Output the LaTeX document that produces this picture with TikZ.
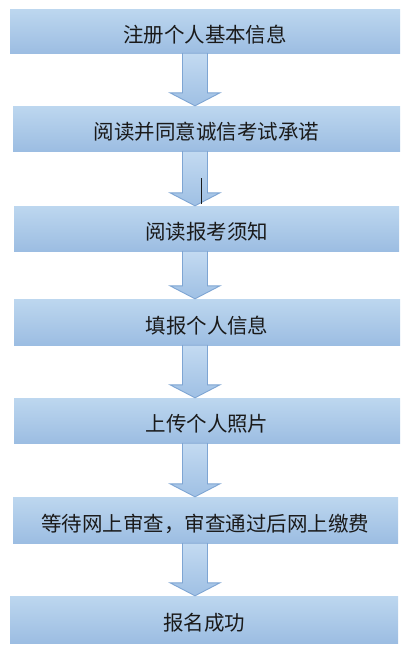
\documentclass[tikz,border=0pt]{standalone}
\usepackage{fontspec}
\usetikzlibrary{calc}
\newfontfamily\cjk{Noto Sans CJK SC}
\definecolor{boxtop}{HTML}{BDD7EF}
\definecolor{boxbot}{HTML}{9CBDE2}
\definecolor{arrline}{HTML}{7EA5D3}
\definecolor{arrtop}{HTML}{C3DAF1}
\definecolor{arrbot}{HTML}{9FC0E4}
\definecolor{txt}{HTML}{1A1A1A}
\newcommand\blockarrow[2]{%
  \path[blockarr] let \p1=(#1.south), \p2=(#2.north) in
    (195pt-12.5pt,\y1) -- (195pt+12.5pt,\y1) -- (195pt+12.5pt,\y2+13pt)
    -- (195pt+25pt,\y2+13pt) -- (195pt,\y2) -- (195pt-25pt,\y2+13pt)
    -- (195pt-12.5pt,\y2+13pt) -- cycle;}
\begin{document}
\begin{tikzpicture}[x=1pt,y=-1pt,
  flowbox/.style={rectangle, inner sep=0pt, top color=boxtop, bottom color=boxbot,
    draw=none, text=txt, text height=24.5pt, text depth=2pt,
    font=\cjk\fontsize{20.5}{24}\selectfont},
  blockarr/.style={draw=arrline, line width=0.9pt, line join=miter, top color=arrtop, bottom color=arrbot}]
\useasboundingbox (0,0) rectangle (413,657);
\node[flowbox, minimum width=390pt, minimum height=44pt] (b1) at (205,31) {注册个人基本信息};
\node[flowbox, minimum width=387pt, minimum height=45pt] (b2) at (206.5,128.5) {阅读并同意诚信考试承诺};
\node[flowbox, minimum width=385pt, minimum height=45pt] (b3) at (206.5,228.5) {阅读报考须知};
\node[flowbox, minimum width=386pt, minimum height=46pt] (b4) at (207,322) {填报个人信息};
\node[flowbox, minimum width=386pt, minimum height=45pt] (b5) at (207,420.5) {上传个人照片};
\node[flowbox, minimum width=385pt, minimum height=46pt] (b6) at (205.5,520) {等待网上审查，审查通过后网上缴费};
\node[flowbox, minimum width=388pt, minimum height=47pt] (b7) at (204,619.5) {报名成功};
\blockarrow{b1}{b2}
\blockarrow{b2}{b3}
\blockarrow{b3}{b4}
\blockarrow{b4}{b5}
\blockarrow{b5}{b6}
\blockarrow{b6}{b7}
\draw[txt, line width=0.8pt] (201.7,178) -- (201.7,204);
\end{tikzpicture}
\end{document}
